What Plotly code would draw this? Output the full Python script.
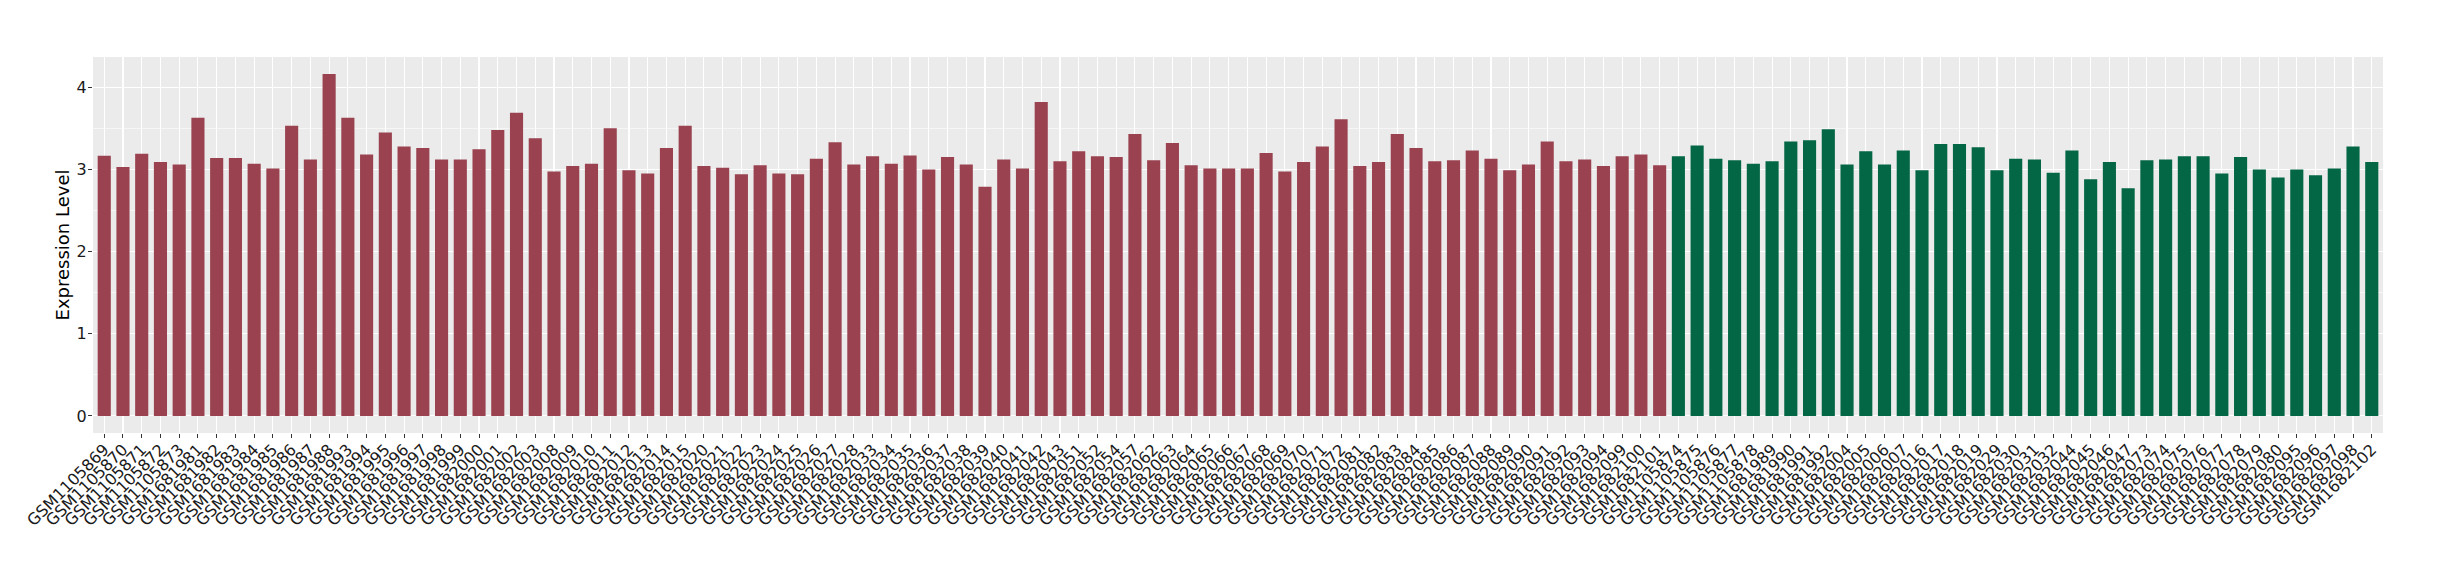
import plotly.graph_objects as go

red_samples = [
    "GSM1105869", "GSM1105870", "GSM1105871", "GSM1105872", "GSM1105873",
    "GSM1681981", "GSM1681982", "GSM1681983", "GSM1681984", "GSM1681985",
    "GSM1681986", "GSM1681987", "GSM1681988", "GSM1681993", "GSM1681994",
    "GSM1681995", "GSM1681996", "GSM1681997", "GSM1681998", "GSM1681999",
    "GSM1682000", "GSM1682001", "GSM1682002", "GSM1682003", "GSM1682008",
    "GSM1682009", "GSM1682010", "GSM1682011", "GSM1682012", "GSM1682013",
    "GSM1682014", "GSM1682015", "GSM1682020", "GSM1682021", "GSM1682022",
    "GSM1682023", "GSM1682024", "GSM1682025", "GSM1682026", "GSM1682027",
    "GSM1682028", "GSM1682033", "GSM1682034", "GSM1682035", "GSM1682036",
    "GSM1682037", "GSM1682038", "GSM1682039", "GSM1682040", "GSM1682041",
    "GSM1682042", "GSM1682043", "GSM1682051", "GSM1682052", "GSM1682054",
    "GSM1682057", "GSM1682062", "GSM1682063", "GSM1682064", "GSM1682065",
    "GSM1682066", "GSM1682067", "GSM1682068", "GSM1682069", "GSM1682070",
    "GSM1682071", "GSM1682072", "GSM1682081", "GSM1682082", "GSM1682083",
    "GSM1682084", "GSM1682085", "GSM1682086", "GSM1682087", "GSM1682088",
    "GSM1682089", "GSM1682090", "GSM1682091", "GSM1682092", "GSM1682093",
    "GSM1682094", "GSM1682099", "GSM1682100", "GSM1682101",
]
red_values = [
    3.165, 3.03, 3.19, 3.09, 3.06, 3.63, 3.14, 3.14, 3.07, 3.01,
    3.53, 3.12, 4.16, 3.63, 3.18, 3.45, 3.28, 3.26, 3.12, 3.12,
    3.245, 3.48, 3.69, 3.38, 2.975, 3.04, 3.07, 3.50, 2.99, 2.95,
    3.26, 3.53, 3.04, 3.02, 2.94, 3.05, 2.95, 2.94, 3.13, 3.33,
    3.06, 3.16, 3.07, 3.17, 3.00, 3.15, 3.06, 2.79, 3.12, 3.01,
    3.82, 3.10, 3.22, 3.16, 3.15, 3.43, 3.11, 3.32, 3.05, 3.01,
    3.01, 3.01, 3.20, 2.975, 3.09, 3.28, 3.61, 3.04, 3.09, 3.43,
    3.26, 3.10, 3.11, 3.23, 3.13, 2.99, 3.06, 3.34, 3.10, 3.12,
    3.04, 3.16, 3.18, 3.05,
]
green_samples = [
    "GSM1105874", "GSM1105875", "GSM1105876", "GSM1105877", "GSM1105878",
    "GSM1681989", "GSM1681990", "GSM1681991", "GSM1681992", "GSM1682004",
    "GSM1682005", "GSM1682006", "GSM1682007", "GSM1682016", "GSM1682017",
    "GSM1682018", "GSM1682019", "GSM1682029", "GSM1682030", "GSM1682031",
    "GSM1682032", "GSM1682044", "GSM1682045", "GSM1682046", "GSM1682047",
    "GSM1682073", "GSM1682074", "GSM1682075", "GSM1682076", "GSM1682077",
    "GSM1682078", "GSM1682079", "GSM1682080", "GSM1682095", "GSM1682096",
    "GSM1682097", "GSM1682098", "GSM1682102",
]
green_values = [
    3.16, 3.29, 3.13, 3.11, 3.07, 3.10, 3.34, 3.355, 3.49, 3.06,
    3.22, 3.06, 3.23, 2.99, 3.31, 3.31, 3.27, 2.99, 3.13, 3.12,
    2.96, 3.23, 2.88, 3.09, 2.77, 3.11, 3.12, 3.16, 3.16, 2.95,
    3.15, 3.00, 2.90, 3.00, 2.93, 3.01, 3.28, 3.09,
]

RED = "#9A4250"
GREEN = "#036645"

samples = red_samples + green_samples
values = red_values + green_values
colors = [RED] * len(red_samples) + [GREEN] * len(green_samples)

fig = go.Figure(
    go.Bar(
        x=samples,
        y=values,
        marker=dict(color=colors, line=dict(width=0)),
        width=0.7,
        showlegend=False,
        hoverinfo="skip",
    )
)

FONT = "DejaVu Sans, sans-serif"
n = len(samples)

fig.update_layout(
    width=2440,
    height=580,
    margin=dict(l=93, r=57, t=57, b=147, autoexpand=False),
    paper_bgcolor="white",
    plot_bgcolor="#EBEBEB",
    font=dict(family=FONT, color="#333333"),
    bargap=0.3,
    hovermode=False,
)
fig.update_xaxes(
    type="category",
    categoryorder="array",
    categoryarray=samples,
    tickmode="array",
    tickvals=samples,
    ticktext=samples,
    range=[-0.6, n - 1 + 0.6],
    tickangle=-45,
    tickfont=dict(size=16, color="#1A1A1A", family=FONT),
    ticklabelstandoff=-4,
    showgrid=True,
    gridcolor="white",
    gridwidth=1.1,
    ticks="outside",
    ticklen=4,
    tickwidth=1,
    tickcolor="#333333",
    showline=False,
    zeroline=False,
    automargin=False,
)
fig.update_yaxes(
    range=[-0.208, 4.368],
    tickvals=[0, 1, 2, 3, 4],
    ticktext=["0", "1", "2", "3", "4"],
    tickfont=dict(size=16, color="#1A1A1A", family=FONT),
    ticklabelstandoff=-2,
    showgrid=True,
    gridcolor="white",
    gridwidth=1.1,
    minor=dict(tickvals=[0.5, 1.5, 2.5, 3.5], showgrid=True, gridcolor="white", gridwidth=0.55, ticks=""),
    ticks="outside",
    ticklen=4,
    tickwidth=1,
    tickcolor="#333333",
    zeroline=False,
    showline=False,
    title=dict(text="Expression Level", font=dict(size=18, color="black", family=FONT), standoff=2),
    automargin=False,
)

fig.write_html(
    "out.html",
    config={"displayModeBar": False, "staticPlot": True},
    post_script="document.body.style.margin='0';document.body.style.overflow='hidden';",
)
